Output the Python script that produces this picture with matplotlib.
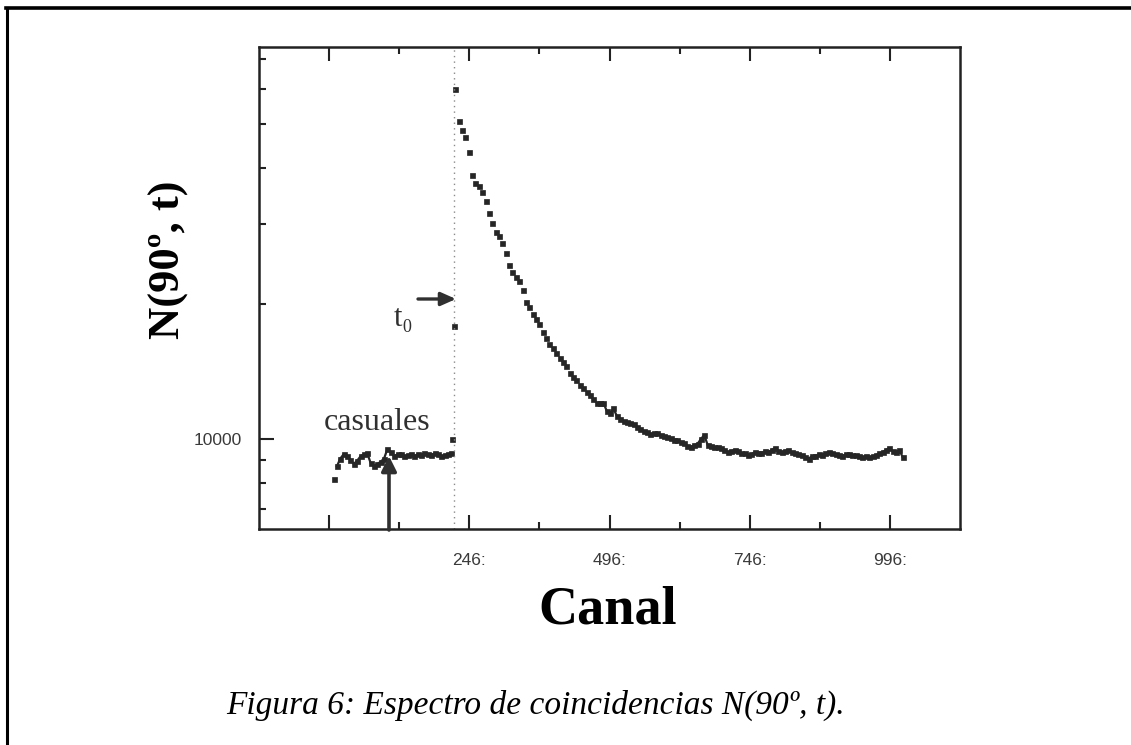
import matplotlib
matplotlib.use("Agg")
import matplotlib.pyplot as plt
import numpy as np
from matplotlib.lines import Line2D
from matplotlib.patches import FancyArrowPatch
from matplotlib.ticker import FixedLocator, FixedFormatter, NullFormatter

# ---------------- data ----------------
# random coincidences before t0 ("casuales"), channels 4, 10, 16, ...
pre_start, pre_step = 4, 6
pre_counts = [8150, 8700, 9050, 9250, 9150, 9000, 8800, 8950, 9150, 9250,
              9300, 8850, 8700, 8800, 8900, 9050, 9500, 9350, 9150, 9250,
              9250, 9150, 9200, 9250, 9150, 9250, 9200, 9300, 9250, 9200,
              9300, 9250, 9150, 9200, 9250, 9300]

# rising edge at t0
edge_channels = [216, 218, 221]
edge_counts = [10000, 17800, 60000]

# decay after t0, channels 227, 233, 239, ...
decay_start, decay_step = 227, 6
decay_counts = [50900, 48600, 47000, 43500, 38600, 37000, 36400, 35300, 33800, 31800,
                30200, 28900, 28200, 27200, 25900, 24400, 23500, 22900, 22400, 21400,
                20200, 19600, 19000, 18500, 18000, 17300, 16800, 16300, 15900, 15500,
                15100, 14800, 14500, 14000, 13700, 13500, 13150, 12950, 12750, 12550,
                12250, 12050, 12000, 12050, 11550, 11400, 11700, 11250, 11100, 10950,
                10900, 10850, 10800, 10650, 10500, 10400, 10350, 10250, 10300, 10300,
                10200, 10150, 10100, 10050, 9950, 9950, 9850, 9800, 9650, 9600,
                9700, 9750, 10000, 10200, 9700, 9650, 9600, 9600, 9550, 9450,
                9350, 9400, 9450, 9400, 9300, 9300, 9200, 9250, 9350, 9300,
                9300, 9400, 9350, 9450, 9550, 9400, 9350, 9400, 9450, 9350,
                9300, 9250, 9200, 9100, 9050, 9150, 9170, 9250, 9200, 9300,
                9350, 9300, 9250, 9200, 9150, 9250, 9250, 9200, 9200, 9150,
                9100, 9150, 9100, 9150, 9200, 9300, 9350, 9450, 9550, 9400,
                9350, 9450, 9100]

t0_channel = 218
x_major = [-4, 246, 496, 746, 996]
x_major_labels = ["", "246:", "496:", "746:", "996:"]
x_minor = [121, 371, 621, 871]
y_major = [10000]
y_major_labels = ["10000"]
y_minor = [7000, 8000, 9000, 20000, 30000, 40000, 50000, 60000, 70000]

# ---------------- figure ----------------
W, H = 1131, 745
fig = plt.figure(figsize=(W / 100, H / 100), dpi=100)
fig.patch.set_facecolor("white")


def fx(px):
    return px / W


def fy(py):
    return 1 - py / H


ax = fig.add_axes([fx(259), fy(529), (960 - 259) / W, (529 - 47) / H])

pre_ch = np.arange(len(pre_counts)) * pre_step + pre_start
dec_ch = np.arange(len(decay_counts)) * decay_step + decay_start
ink = "#262626"
mk = dict(ls="none", marker="s", ms=3.6, color=ink, mec=ink, mew=0.5)
# the dense parts of the spectrum read as a jagged trace
ax.plot(pre_ch[1:], pre_counts[1:], ls="-", lw=1.6, color=ink)
tail = dec_ch >= 460
ax.plot(dec_ch[tail], np.asarray(decay_counts)[tail], ls="-", lw=1.6, color=ink)
ax.plot(pre_ch, pre_counts, **mk)
ax.plot(edge_channels, edge_counts, **mk)
ax.plot(dec_ch, decay_counts, **mk)

ax.axvline(t0_channel, ls=(0, (1, 3)), color="#8a8a8a", lw=1.0)

ax.set_xlim(-129, 1121)
ax.set_yscale("log")
ax.set_ylim(6310, 74300)

ax.xaxis.set_major_locator(FixedLocator(x_major))
ax.xaxis.set_major_formatter(FixedFormatter(x_major_labels))
ax.xaxis.set_minor_locator(FixedLocator(x_minor))
ax.xaxis.set_minor_formatter(NullFormatter())
ax.yaxis.set_major_locator(FixedLocator(y_major))
ax.yaxis.set_major_formatter(FixedFormatter(y_major_labels))
ax.yaxis.set_minor_locator(FixedLocator(y_minor))
ax.yaxis.set_minor_formatter(NullFormatter())

ax.tick_params(axis="x", which="both", direction="in", top=True, bottom=True,
               color="#222222", width=1.5)
ax.tick_params(axis="x", which="major", length=10, pad=17, labelsize=12.5,
               labelcolor="#3a3a3a")
ax.tick_params(axis="x", which="minor", length=5)
ax.tick_params(axis="y", which="both", direction="in", left=True, right=False,
               color="#222222", width=1.5)
ax.tick_params(axis="y", which="major", length=11, pad=12, labelsize=12.5,
               labelcolor="#3a3a3a")
ax.tick_params(axis="y", which="minor", length=5)
for lab in ax.get_xticklabels() + ax.get_yticklabels():
    lab.set_family("Liberation Sans")

for s in ax.spines.values():
    s.set_linewidth(1.8)
    s.set_color("#222222")

# outer frame of the scanned figure (top and left edges)
fig.add_artist(Line2D([fx(6), 1], [fy(7.5), fy(7.5)], transform=fig.transFigure,
                      lw=2.6, color="black"))
fig.add_artist(Line2D([fx(6.5), fx(6.5)], [fy(7.5), 0], transform=fig.transFigure,
                      lw=2.2, color="black"))

serif = "Liberation Serif"
# axis labels
fig.text(fx(169), fy(260), "N(90º, t)", rotation=90, ha="center", va="center",
         fontsize=32, fontweight="bold", family=serif, color="black")
fig.text(fx(608), fy(610), "Canal", ha="center", va="center",
         fontsize=39, fontweight="bold", family=serif, color="black")
# caption
fig.text(fx(536), fy(705), "Figura 6: Espectro de coincidencias N(90º, t).",
         ha="center", va="center", fontsize=24, style="italic", family=serif,
         color="black")

# annotations
fig.text(fx(377), fy(423), "casuales", ha="center", va="center", fontsize=23,
         family=serif, color="#303030")
fig.add_artist(FancyArrowPatch(
    (fx(389), fy(530)), (fx(389), fy(456)), transform=fig.transFigure,
    arrowstyle="-|>,head_length=9,head_width=4.5", lw=2.6, color="#303030",
    shrinkA=0, shrinkB=0))

fig.text(fx(398), fy(318), "t", ha="center", va="center", fontsize=22,
         family=serif, color="#303030")
fig.text(fx(407), fy(327), "0", ha="center", va="center", fontsize=13,
         family=serif, color="#303030")
fig.add_artist(FancyArrowPatch(
    (fx(418), fy(299)), (fx(456), fy(299)), transform=fig.transFigure,
    arrowstyle="-|>,head_length=9,head_width=4", lw=2.4, color="#303030",
    shrinkA=0, shrinkB=0))

fig.savefig("out.png", dpi=100, facecolor="white")
